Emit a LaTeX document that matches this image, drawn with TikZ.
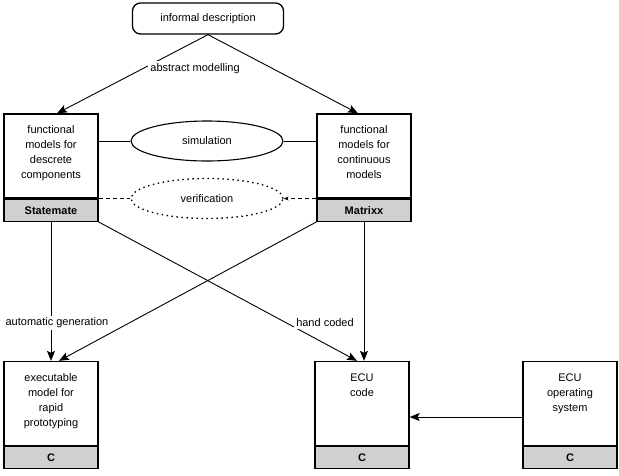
\documentclass[tikz,border=0pt]{standalone}
\usepackage{fontspec}
\setmainfont{Liberation Sans}
\usetikzlibrary{positioning, arrows.meta, shapes.geometric}
\definecolor{band-grey}{HTML}{D0D0D0}

\begin{document}
\begin{tikzpicture}[x=1pt, y=-1pt,
      every node/.style={font=\fontsize{11}{15}\selectfont},
      box/.style={draw, line width=1.3pt, minimum width=94pt, minimum height=84pt, inner sep=0pt},
      band/.style={draw, line width=1.3pt, fill=band-grey, minimum width=94pt, minimum height=22pt,
                   inner sep=0pt, font=\fontsize{11}{15}\selectfont\bfseries},
      boxtext/.style={anchor=north, align=center, yshift=-9pt},
      oval/.style={ellipse, draw, line width=1.1pt, minimum width=152pt, minimum height=40pt, inner sep=0pt},
      lbl/.style={fill=white, inner sep=2pt},
      arrow/.style={-{Stealth[length=10pt, width=8pt, inset=2pt]}, line width=0.9pt}]
    \useasboundingbox (0,0) rectangle (619,475);

    % source
    \node[draw, line width=1.3pt, rounded corners=8pt,
          minimum width=151pt, minimum height=31pt] (info) at (208,18.5) {informal description};

    % functional models
    \node[box, label={[boxtext]north:{functional\\models for\\descrete\\components}}] (fd) at (51,156) {};
    \node[band, below=0pt of fd] (fdlang) {Statemate};
    \node[box, label={[boxtext]north:{functional\\models for\\continuous\\models}}] (fc) at (364,156) {};
    \node[band, below=0pt of fc] (fclang) {Matrixx};

    \node[oval] (sim) at (207,141) {simulation};
    \node[oval, dash pattern=on 1.5pt off 3.5pt, line width=1.3pt] (ver) at (207,198.5) {verification};

    % targets
    \node[box, label={[boxtext]north:{executable\\model for\\rapid\\prototyping}}] (ex) at (51,403.5) {};
    \node[band, below=0pt of ex] (exlang) {C};
    \node[box, label={[boxtext]north:{ECU\\code}}] (ecu) at (362,403.5) {};
    \node[band, below=0pt of ecu] (eculang) {C};
    \node[box, label={[boxtext]north:{ECU\\operating\\system}}] (os) at (570,403.5) {};
    \node[band, below=0pt of os] (oslang) {C};

    \draw[arrow] (info.south) -- node[lbl, pos=0.43, xshift=52pt] {abstract modelling} ([xshift=6pt]fd.north);
    \draw[arrow] (info.south) -- ([xshift=-6pt]fc.north);

    \draw[line width=0.9pt] (fd.east |- sim.west) -- (sim.west);
    \draw[line width=0.9pt] (sim.east) -- (sim.east -| fc.west);
    \draw[line width=0.9pt, dash pattern=on 4pt off 3pt] (ver.west -| fd.east) -- (ver.west);
    \draw[line width=0.9pt, dash pattern=on 4pt off 3pt, -{Stealth[length=5pt, width=4pt]}]
        (ver.east -| fc.west) -- (ver.east);

    \draw[arrow] (fdlang.south east) -- ([xshift=-5pt]ecu.north);
    \draw[arrow] (fclang.south west) -- ([xshift=8pt]ex.north);
    \draw[arrow] (fdlang) -- node[lbl, pos=0.725, xshift=6pt] {automatic generation} (ex);
    \draw[arrow] (fclang) -- node[lbl, pos=0.725, xshift=-39pt] {hand coded} (fclang |- ecu.north);

    \draw[arrow] ([yshift=-13.5pt]os.west) -- ([yshift=-13.5pt]ecu.east);
\end{tikzpicture}
\end{document}
